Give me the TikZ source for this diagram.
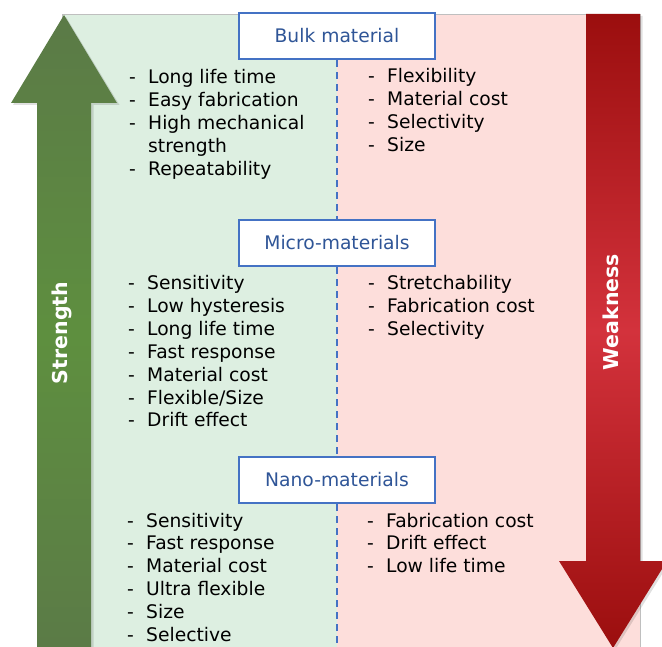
\documentclass[tikz,border=0pt]{standalone}
\usepackage{fontspec}
\setmainfont{DejaVu Sans}
\definecolor{bggreen}{RGB}{221,239,225}
\definecolor{bgpink}{RGB}{253,222,219}
\definecolor{boxblue}{RGB}{68,114,196}
\definecolor{titleblue}{RGB}{47,85,151}
\definecolor{gdark}{RGB}{91,122,71}
\definecolor{gmid}{RGB}{94,143,63}
\definecolor{rdark}{RGB}{155,14,14}
\definecolor{rmid}{RGB}{211,50,60}
\newcommand\dsh{\makebox[19pt][l]{-}}
\newcommand\ind{\hspace*{19pt}}
\tikzset{
 itm/.style={anchor=base west, inner sep=0pt, font=\fontsize{18.7}{22}\selectfont},
 titlebox/.style={draw=boxblue, line width=2pt, fill=white, minimum width=196pt, minimum height=46pt, inner sep=0pt, text=titleblue, font=\fontsize{18.7}{22}\selectfont},
 sepline/.style={draw=boxblue, line width=2pt, dash pattern=on 7pt off 5pt},
 vlabel/.style={rotate=90, text=white, font=\bfseries\fontsize{20.5}{24}\selectfont, inner sep=0pt},
 arrowshadow/.style={fill=black, opacity=0.12}
}
\newcommand\itemcol[4]{\foreach \t [count=\k] in {#4} {\node[itm] (#3\k) at ({#1},{#2+(\k-1)*22.8}) {\t};}}
\begin{document}
\begin{tikzpicture}[x=1pt,y=-1pt]
\useasboundingbox (0,0) rectangle (662,647);
\clip (0,0) rectangle (662,647);
% backgrounds
\fill[bggreen] (62,14) rectangle (337,660);
\fill[bgpink] (337,14) rectangle (640,660);
\draw[gray!50, line width=0.8pt] (62,660) -- (62,14) -- (640,14) -- (640,660);
% arrow shadows
\fill[arrowshadow]
  (66,17) -- (119.5,105) -- (93.5,105) -- (93.5,660) -- (39,660) -- (39,105) -- (13,105) -- cycle;
\fill[arrowshadow]
  (588,16) -- (642.5,16) -- (642.5,563) -- (669,563) -- (615,650) -- (561,563) -- (588,563) -- cycle;
% arrows
\shade[top color=gdark, bottom color=gdark, middle color=gmid]
  (64,15) -- (117,103) -- (91,103) -- (91,660) -- (37,660) -- (37,103) -- (11,103) -- cycle;
\shade[top color=rdark, bottom color=rdark, middle color=rmid]
  (586,14) -- (640,14) -- (640,561) -- (667,561) -- (613,648) -- (559,561) -- (586,561) -- cycle;
\node[vlabel] (strength) at (62,333) {Strength};
\node[vlabel] (weakness) at (611,312) {Weakness};
% title boxes
\node[titlebox] (bulk) at (337,36) {Bulk material};
\node[titlebox] (micro) at (337,243) {Micro-materials};
\node[titlebox] (nano) at (337,480) {Nano-materials};
\coordinate (bot) at (337,660);
\draw[sepline] (bulk.south) -- (micro.north);
\draw[sepline] (micro.south) -- (nano.north);
\draw[sepline] (nano.south) -- (bot);
% lists
\itemcol{129}{84}{bl}{\dsh Long life time, \dsh Easy fabrication, \dsh High mechanical, \ind strength, \dsh Repeatability}
\itemcol{368}{83}{br}{\dsh Flexibility, \dsh Material cost, \dsh Selectivity, \dsh Size}
\itemcol{128}{290}{ml}{\dsh Sensitivity, \dsh Low hysteresis, \dsh Long life time, \dsh Fast response, \dsh Material cost, \dsh Flexible/Size, \dsh Drift effect}
\itemcol{368}{290}{mr}{\dsh Stretchability, \dsh Fabrication cost, \dsh Selectivity}
\itemcol{127}{527}{nl}{\dsh Sensitivity, \dsh Fast response, \dsh Material cost, \dsh Ultra flexible, \dsh Size, \dsh Selective}
\itemcol{367}{527}{nr}{\dsh Fabrication cost, \dsh Drift effect, \dsh Low life time}
\end{tikzpicture}
\end{document}
